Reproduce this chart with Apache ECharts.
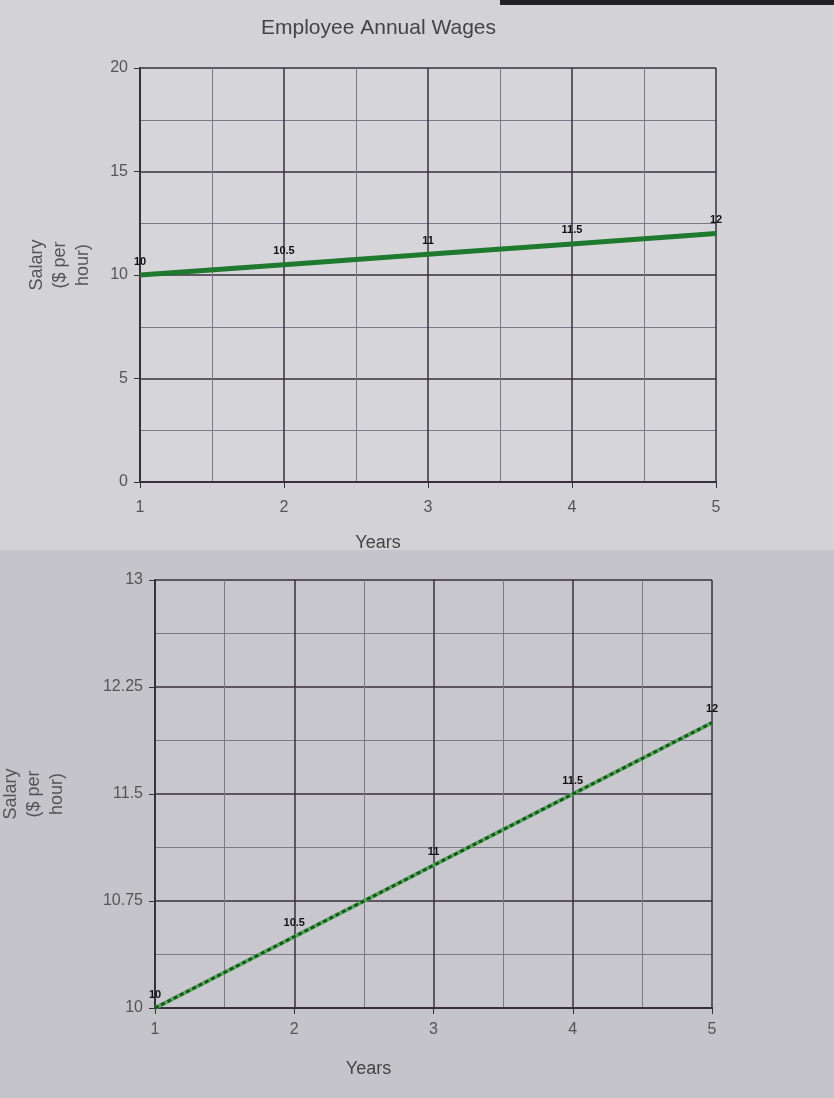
<!DOCTYPE html>
<html>
<head>
<meta charset="utf-8">
<script src="https://cdn.jsdelivr.net/npm/echarts@6/dist/echarts.min.js"></script>
<style>
html,body{margin:0;padding:0;background:#d3d2d7;}
#c{width:834px;height:1098px;}
</style>
</head>
<body>
<div id="c"></div>
<script>
const years = [1, 2, 3, 4, 5];
const salary = [10, 10.5, 11, 11.5, 12];
const titleText = 'Employee Annual Wages';
const xName = 'Years';
const yName = 'Salary\n($ per\nhour)';
const topYTicks = [0, 5, 10, 15, 20];
const bottomYTicks = [10, 10.75, 11.5, 12.25, 13];

const pts = years.map((y, i) => [y, salary[i]]);
const font = '"Liberation Sans", Arial, sans-serif';
const dark = '#3a2f3c';

function xAxis(gridIndex, namePad, labelMargin) {
  return {
    type: 'value', gridIndex, min: 1, max: 5, interval: 1,
    name: xName, nameLocation: 'middle', nameGap: 52,
    nameTextStyle: { fontFamily: font, fontSize: 18, color: '#444', padding: [0, namePad, 0, 0] },
    axisLine: { show: true, lineStyle: { color: dark, width: 2 } },
    axisTick: { show: true, length: 6, lineStyle: { color: dark } },
    axisLabel: { fontFamily: font, fontSize: 16, color: '#555', margin: labelMargin },
    splitLine: { show: true, lineStyle: { color: dark, width: 1.5 } },
    minorTick: { show: false, splitNumber: 2 },
    minorSplitLine: { show: true, lineStyle: { color: '#7d7883', width: 1 } }
  };
}
function yAxis(gridIndex, min, max, interval, gap, pad) {
  return {
    type: 'value', gridIndex, min, max, interval,
    name: yName, nameLocation: 'middle', nameGap: gap, nameRotate: 90,
    nameTextStyle: { fontFamily: font, fontSize: 18, color: '#555', lineHeight: 23, padding: pad },
    axisLine: { show: true, lineStyle: { color: dark, width: 2 } },
    axisTick: { show: true, length: 6, lineStyle: { color: dark } },
    axisLabel: { fontFamily: font, fontSize: 16, color: '#555', margin: 12,
      formatter: v => String(v) },
    splitLine: { show: true, lineStyle: { color: dark, width: 1.5 } },
    minorTick: { show: false, splitNumber: 2 },
    minorSplitLine: { show: true, lineStyle: { color: '#7d7883', width: 1 } }
  };
}
const labelCfg = { show: true, position: 'top', distance: 8, fontFamily: font,
  fontSize: 11, fontWeight: 'bold', color: '#111', formatter: p => String(p.value[1]) };

const chart = echarts.init(document.getElementById('c'), null, { renderer: 'canvas' });
chart.setOption({
  backgroundColor: '#d3d2d7',
  animation: false,
  graphic: [
    { type: 'rect', shape: { x: 0, y: 550, width: 834, height: 548 }, style: { fill: '#c5c4ca' }, z: -10 },
    { type: 'rect', shape: { x: 500, y: 0, width: 334, height: 5 }, style: { fill: '#222' }, z: -10 }
  ],
  title: { text: titleText, left: 256, top: 13,
    textStyle: { fontFamily: font, fontSize: 21, fontWeight: 'normal', color: '#444' } },
  grid: [
    { left: 140, right: 118, top: 68, height: 414, show: true, backgroundColor: '#d6d5da', borderWidth: 0, outerBoundsMode: 'none', containLabel: false },
    { left: 155, right: 122, top: 580, height: 428, show: true, backgroundColor: '#c8c7cd', borderWidth: 0, outerBoundsMode: 'none', containLabel: false }
  ],
  xAxis: [xAxis(0, 100, 18), xAxis(1, 130, 14)],
  yAxis: [
    yAxis(0, topYTicks[0], topYTicks[topYTicks.length - 1], 5, 45, [0, 0, 0, 20]),
    yAxis(1, bottomYTicks[0], bottomYTicks[bottomYTicks.length - 1], 0.75, 86, [0, 0, 0, 0])
  ],
  series: [
    { type: 'line', xAxisIndex: 0, yAxisIndex: 0, data: pts, symbol: 'circle', symbolSize: 0,
      lineStyle: { color: '#1f7a30', width: 5 }, itemStyle: { color: '#1f7a30' }, label: labelCfg, z: 5 },
    { type: 'line', xAxisIndex: 1, yAxisIndex: 1, data: pts, symbol: 'none',
      lineStyle: { color: '#5aa85f', width: 4 }, z: 4, silent: true },
    { type: 'line', xAxisIndex: 1, yAxisIndex: 1, data: pts, symbol: 'circle', symbolSize: 0,
      lineStyle: { color: '#17561f', width: 3, type: [4, 3] }, itemStyle: { color: '#17561f' }, label: labelCfg, z: 5 }
  ]
});
</script>
</body>
</html>
